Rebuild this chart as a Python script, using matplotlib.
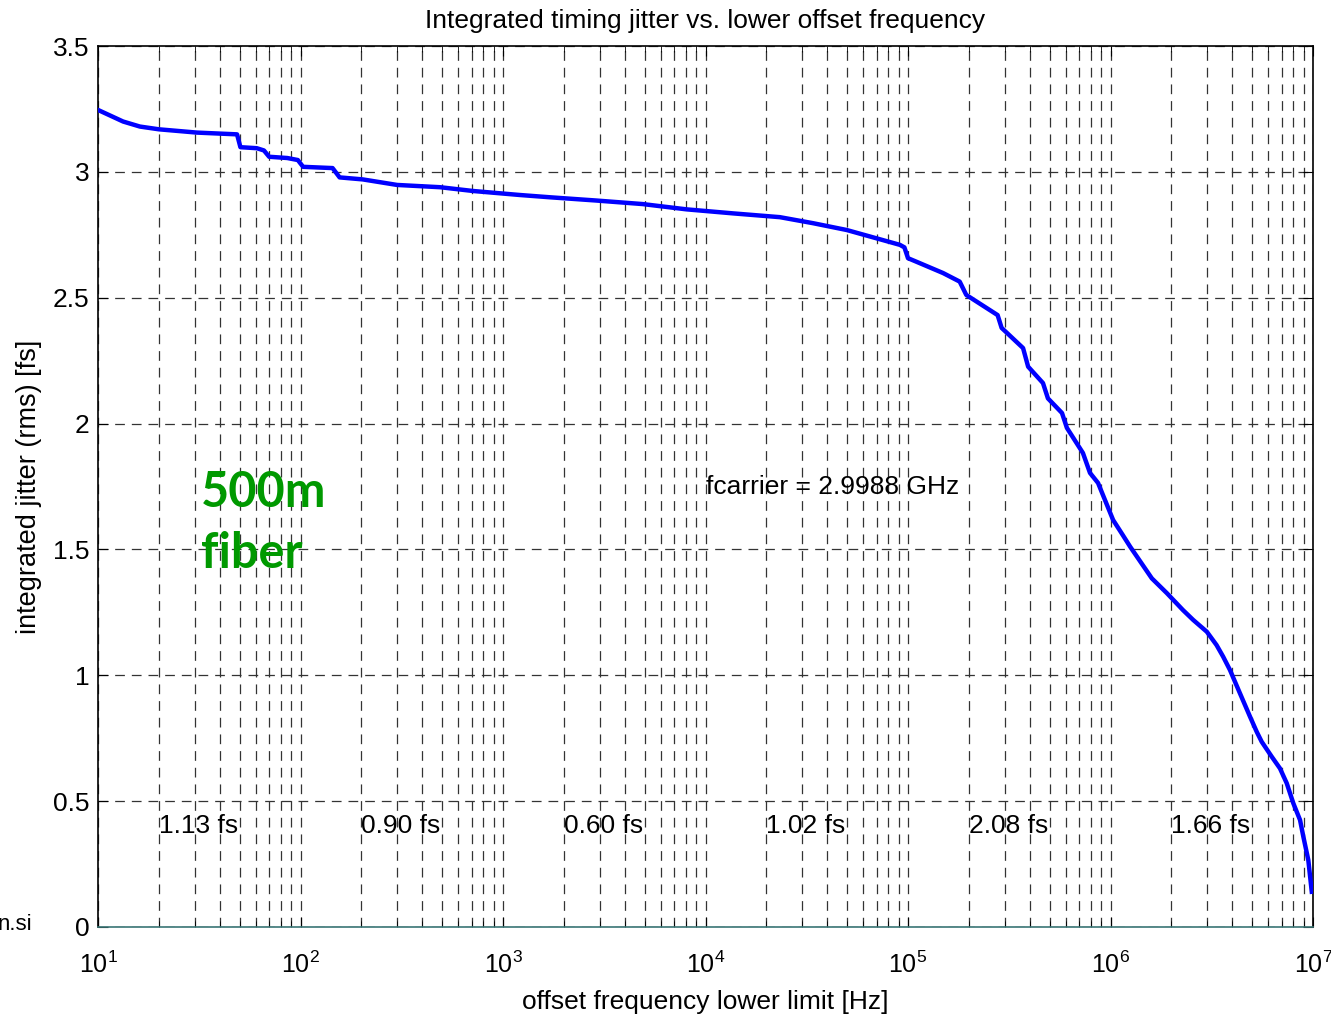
import matplotlib
matplotlib.use("Agg")
import matplotlib.pyplot as plt
from matplotlib.ticker import LogLocator, FormatStrFormatter, NullFormatter

plt.rcParams['font.family'] = ['Liberation Sans', 'DejaVu Sans']
plt.rcParams['mathtext.fontset'] = 'custom'
plt.rcParams['mathtext.rm'] = 'Liberation Sans'
plt.rcParams['lines.scale_dashes'] = False

# integrated jitter vs lower offset frequency
freq = [10, 13.3, 16.1, 20, 30.8, 48.6, 50.5, 60.8, 66, 70, 86, 97, 103, 144,
        156, 203, 300, 489, 711, 1214, 1706, 2900, 4900, 8070, 13700, 23300,
        34000, 49800, 72800, 91200, 96000, 100000, 110000, 149000, 180000,
        194000, 277000, 290000, 370000, 392000, 464000, 491000, 576000,
        609000, 731000, 792000, 868000, 1030000, 1150000, 1250000, 1600000,
        1900000, 2280000, 2560000, 2990000, 3340000, 3600000, 3890000,
        4360000, 4890000, 5270000, 5580000, 6250000, 6870000, 7420000,
        8000000, 8630000, 8960000, 9480000, 9860000]
jitter = [3.246, 3.20, 3.18, 3.169, 3.156, 3.149, 3.098, 3.094, 3.085, 3.06,
          3.055, 3.047, 3.02, 3.015, 2.978, 2.97, 2.948, 2.939, 2.924, 2.908,
          2.899, 2.886, 2.872, 2.851, 2.835, 2.82, 2.796, 2.769, 2.732, 2.71,
          2.70, 2.657, 2.643, 2.598, 2.564, 2.511, 2.431, 2.38, 2.30, 2.226,
          2.161, 2.10, 2.042, 1.983, 1.883, 1.804, 1.764, 1.617, 1.557, 1.511,
          1.385, 1.326, 1.259, 1.22, 1.173, 1.12, 1.074, 1.021, 0.928, 0.835,
          0.776, 0.736, 0.677, 0.630, 0.571, 0.491, 0.425, 0.359, 0.266, 0.140]

# per-decade jitter contributions
decade_pos = [20, 200, 2000, 20000, 200000, 2000000]
decade_labels = ['1.13 fs', '0.90 fs', '0.60 fs', '1.02 fs', '2.08 fs', '1.66 fs']

yticks = [0, 0.5, 1, 1.5, 2, 2.5, 3, 3.5]

fig = plt.figure(figsize=(13.31, 10.16), dpi=100)
ax = fig.add_axes([98 / 1331, 1 - 927 / 1016, 1215 / 1331, 881 / 1016])

ax.plot(freq, jitter, color='#0000ff', lw=3.2, zorder=3)

ax.set_xscale('log')
ax.set_xlim(10, 1e7)
ax.set_ylim(0, 3.5)
ax.set_yticks(yticks)
ax.yaxis.set_major_formatter(FormatStrFormatter('%g'))
ax.xaxis.set_minor_locator(LogLocator(base=10, subs=range(2, 10), numticks=20))
ax.xaxis.set_minor_formatter(NullFormatter())

ax.grid(True, which='major', axis='both', color='#333333', lw=0.9,
        linestyle=(0, (7, 5)))
ax.grid(True, which='minor', axis='x', color='#333333', lw=0.9,
        linestyle=(0, (7, 5)))
ax.set_axisbelow(True)

ax.tick_params(which='both', direction='in', top=True, right=True)
ax.tick_params(which='major', length=7, labelsize=18)
ax.tick_params(axis='y', labelsize=19)
ax.tick_params(axis='x', which='major', pad=18)
ax.tick_params(axis='y', which='major', pad=6)
ax.tick_params(which='minor', length=4)
for s in ax.spines.values():
    s.set_linewidth(1.2)
ax.spines['bottom'].set_color('#3a7575')

ax.set_title('Integrated timing jitter vs. lower offset frequency', fontsize=19, pad=13)
ax.set_xlabel('offset frequency lower limit [Hz]', fontsize=19, labelpad=8)
ax.set_ylabel('integrated jitter (rms) [fs]', fontsize=19.5, labelpad=8)

for x, lab in zip(decade_pos, decade_labels):
    ax.text(x, 0.4, lab, fontsize=19, ha='left', va='center')

ax.text(1e4, 1.75, 'fcarrier = 2.9988 GHz', fontsize=19, ha='left', va='center')

ax.text(0.085, 0.477, '500m', transform=ax.transAxes, color='#009900',
        fontsize=35, fontweight='bold', family='Lato', ha='left', va='baseline')
ax.text(0.085, 0.4075, 'fiber', transform=ax.transAxes, color='#009900',
        fontsize=35, fontweight='bold', family='Lato', ha='left', va='baseline')

fig.text(32 / 1331, 1 - 925 / 1016, 'n.si', fontsize=16, ha='right', va='center')

fig.savefig('out.png', dpi=100)
